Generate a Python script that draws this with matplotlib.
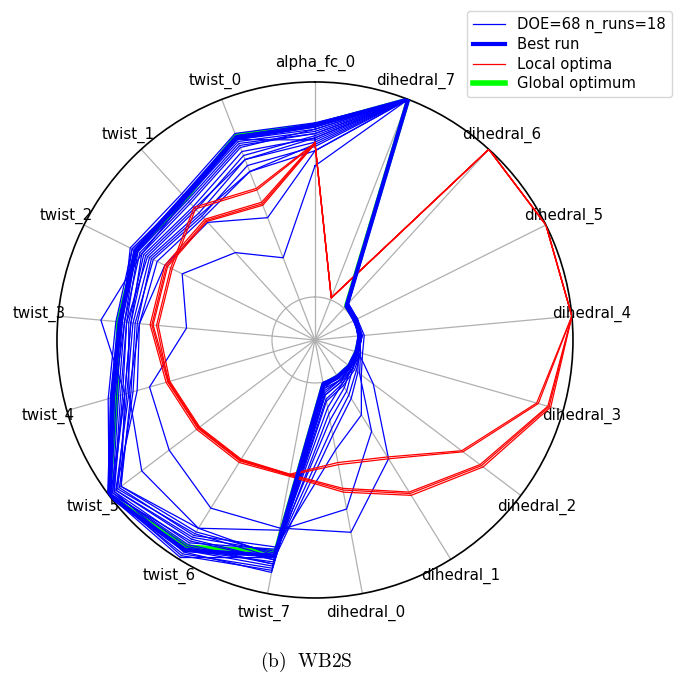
import numpy as np
import matplotlib
matplotlib.use("Agg")
import matplotlib.pyplot as plt

plt.rcParams['mathtext.fontset'] = 'cm'

variables = ['alpha_fc_0', 'dihedral_7', 'dihedral_6', 'dihedral_5', 'dihedral_4',
             'dihedral_3', 'dihedral_2', 'dihedral_1', 'dihedral_0',
             'twist_7', 'twist_6', 'twist_5', 'twist_4', 'twist_3', 'twist_2',
             'twist_1', 'twist_0']

# normalised design variables, one row per DOE run
doe_runs = [
    [0.80, 1, 0.02, 0.01, 0.01, 0.00, 0.00, 0.01, 0.02, 0.82, 0.94, 1.00, 0.79, 0.72, 0.74, 0.71, 0.82],
    [0.79, 1, 0.01, 0.01, 0.02, 0.01, 0.01, 0.00, 0.03, 0.85, 0.95, 0.99, 0.77, 0.71, 0.75, 0.70, 0.81],
    [0.81, 1, 0.03, 0.02, 0.01, 0.00, 0.02, 0.02, 0.05, 0.88, 0.97, 1.00, 0.78, 0.70, 0.76, 0.72, 0.83],
    [0.77, 1, 0.02, 0.00, 0.01, 0.01, 0.00, 0.03, 0.06, 0.86, 0.92, 0.98, 0.75, 0.69, 0.73, 0.69, 0.79],
    [0.76, 1, 0.01, 0.01, 0.00, 0.00, 0.01, 0.02, 0.04, 0.90, 0.96, 0.97, 0.74, 0.68, 0.72, 0.68, 0.78],
    [0.78, 1, 0.02, 0.01, 0.01, 0.02, 0.03, 0.05, 0.09, 0.84, 0.90, 0.99, 0.72, 0.66, 0.70, 0.66, 0.76],
    [0.74, 1, 0.02, 0.02, 0.02, 0.01, 0.02, 0.04, 0.12, 0.80, 0.88, 0.96, 0.70, 0.67, 0.69, 0.64, 0.74],
    [0.72, 1, 0.03, 0.01, 0.01, 0.00, 0.01, 0.06, 0.15, 0.83, 0.86, 0.95, 0.71, 0.65, 0.66, 0.60, 0.70],
    [0.75, 1, 0.01, 0.00, 0.01, 0.01, 0.02, 0.08, 0.18, 0.79, 0.91, 0.97, 0.73, 0.68, 0.67, 0.62, 0.72],
    [0.70, 1, 0.02, 0.02, 0.01, 0.02, 0.04, 0.10, 0.22, 0.81, 0.85, 0.93, 0.69, 0.64, 0.64, 0.58, 0.67],
    [0.73, 1, 0.01, 0.01, 0.00, 0.00, 0.00, 0.00, 0.00, 0.87, 0.95, 1.00, 0.80, 0.73, 0.75, 0.70, 0.80],
    [0.78, 1, 0.02, 0.01, 0.02, 0.01, 0.01, 0.01, 0.02, 0.89, 0.98, 0.99, 0.76, 0.70, 0.74, 0.71, 0.80],
    [0.68, 1, 0.02, 0.02, 0.03, 0.03, 0.07, 0.21, 0.32, 0.78, 0.87, 0.94, 0.68, 0.63, 0.65, 0.59, 0.64],
    [0.61, 1, 0.02, 0.01, 0.01, 0.01, 0.14, 0.45, 0.71, 0.69, 0.72, 0.65, 0.60, 0.40, 0.49, 0.35, 0.21],
    [0.79, 1, 0.01, 0.01, 0.01, 0.00, 0.01, 0.02, 0.03, 0.86, 0.93, 0.98, 0.72, 0.80, 0.70, 0.69, 0.80],
    [0.68, 1, 0.02, 0.01, 0.01, 0.01, 0.02, 0.04, 0.08, 0.82, 0.83, 0.81, 0.70, 0.62, 0.58, 0.54, 0.41],
    [0.71, 1, 0.03, 0.02, 0.02, 0.01, 0.05, 0.12, 0.25, 0.84, 0.89, 0.96, 0.66, 0.62, 0.62, 0.57, 0.64],
    [0.76, 1, 0.01, 0.00, 0.01, 0.02, 0.02, 0.03, 0.06, 0.83, 0.99, 1.00, 0.77, 0.69, 0.71, 0.67, 0.77],
    [0.74, 1, 0.02, 0.01, 0.01, 0.02, 0.06, 0.30, 0.60, 0.70, 0.83, 0.93, 0.72, 0.66, 0.68, 0.63, 0.70],
]

best_run = [0.80, 1, 0.02, 0.01, 0.01, 0.00, 0.00, 0.00, 0.01, 0.82, 0.95, 1.00, 0.78, 0.71, 0.73, 0.70, 0.81]
global_opt = [0.80, 1, 0.015, 0.01, 0.01, 0.00, 0.00, 0.00, 0.01, 0.80, 0.93, 1.00, 0.76, 0.72, 0.73, 0.69, 0.82]

local_optima = [
    [0.716, 0.01, 1, 1, 1, 0.880, 0.663, 0.450, 0.390, 0.440, 0.460, 0.480, 0.510, 0.540, 0.550, 0.635, 0.556],
    [0.712, 0.01, 1, 1, 1, 0.872, 0.655, 0.440, 0.380, 0.435, 0.452, 0.472, 0.502, 0.532, 0.542, 0.625, 0.548],
    [0.720, 0.01, 1, 1, 1, 0.940, 0.780, 0.650, 0.520, 0.445, 0.470, 0.490, 0.520, 0.570, 0.580, 0.560, 0.487],
    [0.716, 0.01, 1, 1, 1, 0.932, 0.770, 0.640, 0.510, 0.440, 0.462, 0.482, 0.512, 0.562, 0.572, 0.552, 0.479],
    [0.712, 0.01, 1, 1, 1, 0.926, 0.762, 0.632, 0.502, 0.436, 0.456, 0.476, 0.506, 0.556, 0.566, 0.546, 0.472],
]


def close(v):
    return list(v) + [v[0]]


n = len(variables)
angles = np.linspace(0, 2 * np.pi, n, endpoint=False)
theta = close(angles)

fig = plt.figure(figsize=(6.84, 6.82), dpi=100)
ax = fig.add_axes([0.0833, 0.1232, 0.7544, 0.7566], polar=True)
ax.set_theta_offset(np.pi / 2)
ax.set_theta_direction(-1)

ax.plot(theta, close(global_opt), color='#00ff00', lw=3, zorder=2)
for i, run in enumerate(doe_runs):
    ax.plot(theta, close(run), color='blue', lw=0.9, zorder=3,
            label='DOE=68 n_runs=18' if i == 0 else None)
ax.plot(theta, close(best_run), color='blue', lw=3, zorder=4, label='Best run')
for i, run in enumerate(local_optima):
    ax.plot(theta, close(run), color='red', lw=0.9, zorder=3,
            label='Local optima' if i == 0 else None)
ax.plot([], [], color='#00ff00', lw=4, label='Global optimum')

ax.set_ylim(-0.2, 1.0)
ax.set_yticks([0.0])
ax.set_yticklabels([])
ax.set_xticks(angles)
ax.set_xticklabels(variables, fontsize=10.8)
ax.grid(True, color='#b0b0b0', lw=0.9)
ax.spines['polar'].set_linewidth(1.2)

fig.legend(loc='upper right', bbox_to_anchor=(0.993, 0.995), fontsize=10.6,
           handlelength=2.2, borderpad=0.4, labelspacing=0.3)

fig.text(0.447, 0.03, r'$\mathrm{(b)\ \ WB2S}$', ha='center', va='center', fontsize=14)

fig.savefig('out.png', dpi=100)
